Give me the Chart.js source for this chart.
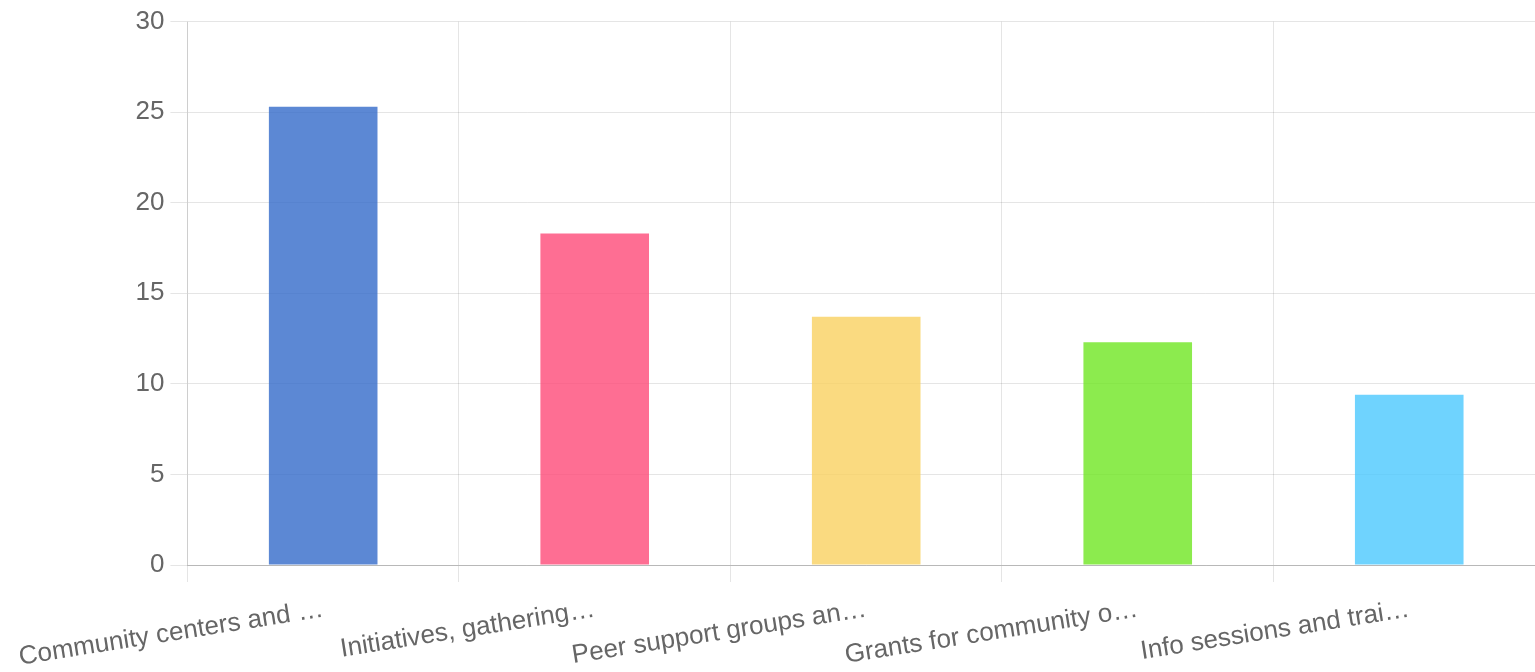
<!DOCTYPE html>
<html>
<head>
<meta charset="utf-8">
<script src="https://cdn.jsdelivr.net/npm/chart.js@4/dist/chart.umd.min.js"></script>
<style>
  html, body { margin: 0; padding: 0; background: #fff; overflow: hidden; }
  #wrap { position: absolute; left: 0; top: 0; width: 1545px; height: 685px; }
</style>
</head>
<body>
<div id="wrap"><canvas id="chart"></canvas></div>
<script>
const categories = [
  'Community centers and …',
  'Initiatives, gathering…',
  'Peer support groups an…',
  'Grants for community o…',
  'Info sessions and trai…'
];
const values = [25.3, 18.3, 13.7, 12.3, 9.4];
const barColors = [
  'rgba(51,106,201,0.8)',
  'rgba(254,74,120,0.8)',
  'rgba(249,209,96,0.8)',
  'rgba(111,230,34,0.8)',
  'rgba(75,200,254,0.8)'
];
const yTicks = [0, 5, 10, 15, 20, 25, 30];

const tickFont = { family: 'Liberation Sans, Arial, sans-serif', size: 26 };

new Chart(document.getElementById('chart'), {
  type: 'bar',
  data: {
    labels: categories,
    datasets: [{
      data: values,
      backgroundColor: barColors,
      borderWidth: 0,
      barPercentage: 0.5,
      categoryPercentage: 0.8
    }]
  },
  options: {
    responsive: true,
    maintainAspectRatio: false,
    animation: false,
    layout: { padding: { top: 4, left: 14, right: 0, bottom: 0 } },
    plugins: {
      legend: { display: false },
      tooltip: { enabled: false }
    },
    scales: {
      y: {
        min: yTicks[0],
        max: yTicks[yTicks.length - 1],
        ticks: {
          stepSize: 5,
          color: '#666',
          font: tickFont,
          padding: 6
        },
        grid: {
          color: 'rgba(0,0,0,0.1)',
          tickLength: 17
        },
        border: { color: 'rgba(0,0,0,0.1)' }
      },
      x: {
        ticks: {
          color: '#666',
          font: tickFont,
          minRotation: 9,
          maxRotation: 9,
          autoSkip: false,
          padding: 12
        },
        grid: {
          color: 'rgba(0,0,0,0.1)',
          tickLength: 17
        },
        border: { color: 'rgba(0,0,0,0.2)' }
      }
    }
  }
});
</script>
</body>
</html>
